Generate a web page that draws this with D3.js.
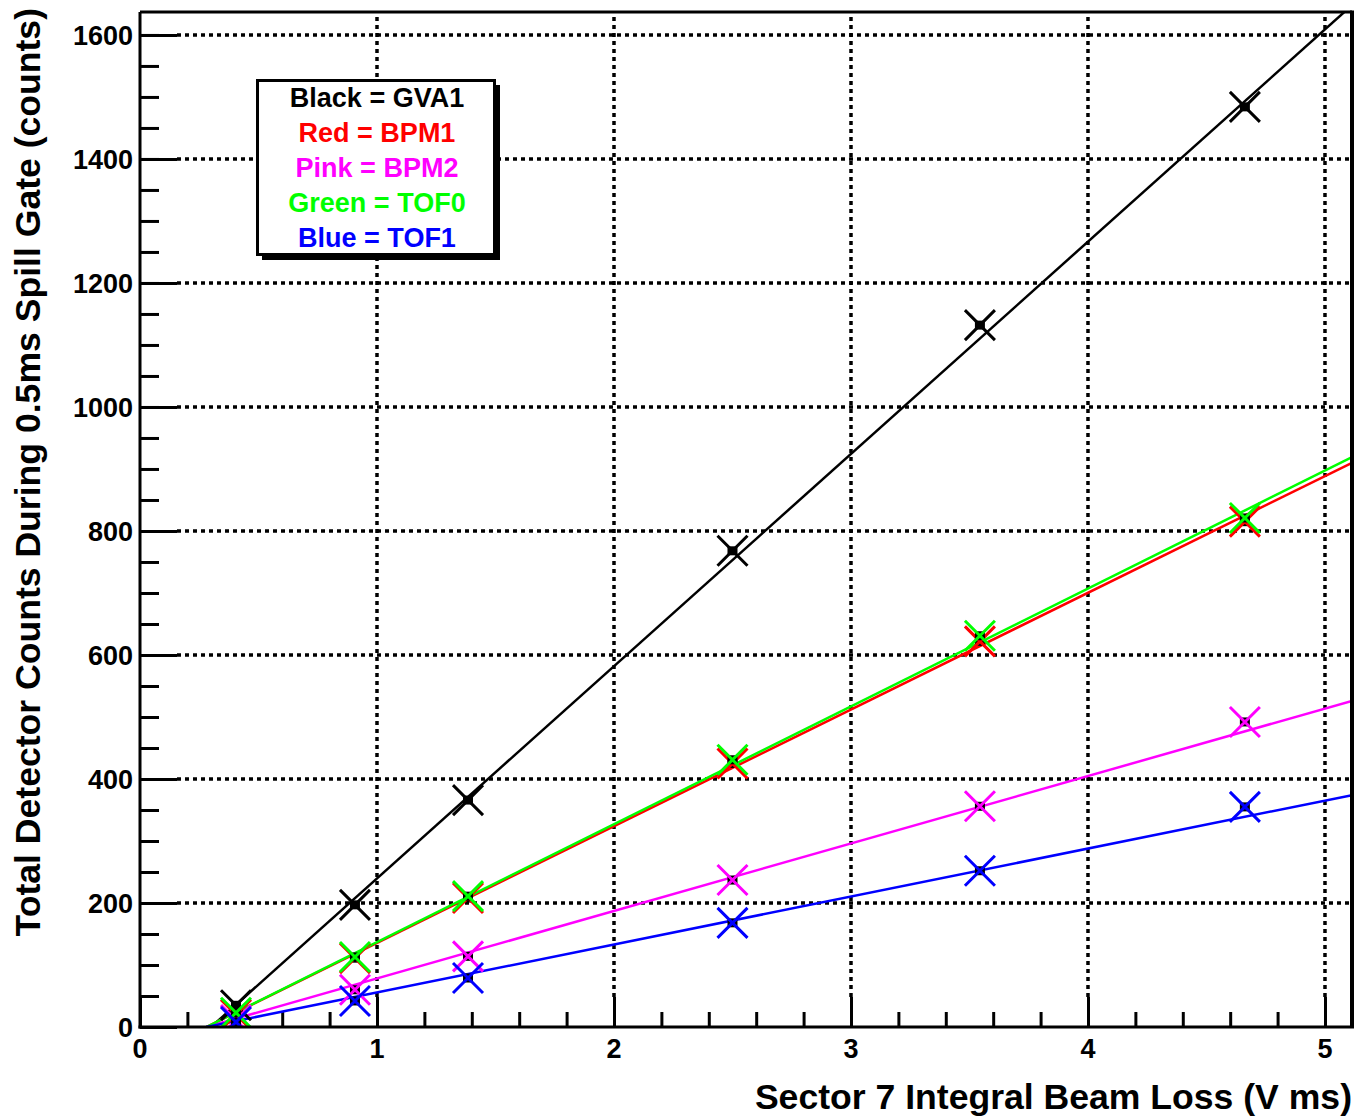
<!DOCTYPE html>
<html>
<head>
<meta charset="utf-8">
<title>Detector counts vs beam loss</title>
<script src="https://cdn.jsdelivr.net/npm/d3@7/dist/d3.min.js"></script>
<style>
body { margin: 0; background: #fff; }
text { font-family: "Liberation Sans", Arial, sans-serif; font-weight: bold; }
.grid line { stroke: #000; stroke-width: 3.5; stroke-dasharray: 4 4; }
</style>
</head>
<body>
<svg width="1358" height="1120"></svg>
<script>
// beam loss values (V ms) shared by all detectors
var beamLoss = [0.405, 0.907, 1.384, 2.5, 3.544, 4.662];
var gva1 = [35, 197, 366, 768, 1132, 1484];
var bpm1 = [20, 111, 208, 425, 622, 815];
var bpm2 = [11, 60, 114, 237, 356, 492];
var tof0 = [23, 113, 211, 431, 631, 821];
var tof1 = [8, 42, 79, 168, 252, 355];
// fitted straight lines, start and end
var fitStartX = [0.3, 0.28, 0.28, 0.28, 0.28];
var fitEndX = [5.114, 5.114, 5.114, 5.114, 5.114];
var fitEndY = [1648, 910, 526, 919, 374];
var names = ["GVA1", "BPM1", "BPM2", "TOF0", "TOF1"];
var colorNames = ["Black", "Red", "Pink", "Green", "Blue"];
var colors = ["#000000", "#ff0000", "#ff00ff", "#00ff00", "#0000ff"];
var yTicks = [0, 200, 400, 600, 800, 1000, 1200, 1400, 1600];
var xTicks = [0, 1, 2, 3, 4, 5];

var series = [gva1, bpm1, bpm2, tof0, tof1];

var svg = d3.select("svg");
var pL = 140, pR = 1352, pT = 12, pB = 1027;
var x = d3.scaleLinear().domain([0, 5.114]).range([pL, pR]);
var y = d3.scaleLinear().domain([0, 1637]).range([pB, pT]);

svg.append("clipPath").attr("id", "plot").append("rect")
  .attr("x", pL).attr("y", pT).attr("width", pR - pL).attr("height", pB - pT);

// grid
var grid = svg.append("g").attr("class", "grid");
grid.selectAll(".gy").data(yTicks.slice(1)).enter().append("line")
  .attr("x1", pL + 37).attr("x2", pR).attr("y1", function(d){return y(d);}).attr("y2", function(d){return y(d);});
grid.selectAll(".gx").data(xTicks.slice(1)).enter().append("line")
  .attr("x1", function(d){return x(d);}).attr("x2", function(d){return x(d);}).attr("y1", pB - 30).attr("y2", pT);

// axes with ticks pointing inwards
var yMinor = d3.range(0, 1637, 50);
var xMinor = d3.range(0, 5.11, 0.2);
function styleTicks(g) { g.selectAll(".tick line").attr("stroke-width", 3); g.select(".domain").remove(); }
svg.append("g").attr("transform", "translate(" + pL + ",0)")
  .call(d3.axisRight(y).tickValues(yMinor).tickSize(19).tickFormat("")).call(styleTicks);
svg.append("g").attr("transform", "translate(" + pL + ",0)")
  .call(d3.axisRight(y).tickValues(yTicks).tickSize(37).tickFormat("")).call(styleTicks);
svg.append("g").selectAll("text").data(yTicks).enter().append("text")
  .attr("x", pL - 7).attr("y", function(d){return y(d) + 10;})
  .attr("text-anchor", "end").style("font-size", "27px").text(function(d){return d;});

svg.append("g").attr("transform", "translate(0," + pB + ")")
  .call(d3.axisTop(x).tickValues(xMinor).tickSize(15).tickFormat("")).call(styleTicks);
svg.append("g").attr("transform", "translate(0," + pB + ")")
  .call(d3.axisTop(x).tickValues(xTicks).tickSize(30).tickFormat("")).call(styleTicks);
svg.append("g").selectAll("text").data(xTicks).enter().append("text")
  .attr("x", function(d){return x(d);}).attr("y", pB + 31)
  .attr("text-anchor", "middle").style("font-size", "27px").text(function(d){return d;});

// fit lines and points
var plot = svg.append("g").attr("clip-path", "url(#plot)");
for (var i = 0; i < series.length; i++) {
  plot.append("line")
    .attr("x1", x(fitStartX[i])).attr("y1", y(0))
    .attr("x2", x(fitEndX[i])).attr("y2", y(fitEndY[i]))
    .attr("stroke", colors[i]).attr("stroke-width", 2.5);
}
for (var i = 0; i < series.length; i++) {
  var pts = series[i].map(function(v, j){ return [beamLoss[j], v]; });
  plot.selectAll(".sq" + i).data(pts).enter().append("rect")
    .attr("x", function(d){return x(d[0]) - 5;}).attr("y", function(d){return y(d[1]) - 4.5;})
    .attr("width", 10).attr("height", 9).attr("fill", "#000");
  plot.selectAll(".mk" + i).data(pts).enter().append("path")
    .attr("d", function(d){
      var cx = x(d[0]), cy = y(d[1]), r = 15;
      return "M" + (cx - r) + "," + (cy - r) + "L" + (cx + r) + "," + (cy + r) +
             "M" + (cx - r) + "," + (cy + r) + "L" + (cx + r) + "," + (cy - r);
    })
    .attr("stroke", colors[i]).attr("stroke-width", 3).attr("fill", "none");
}

// frame
svg.append("line").attr("x1", pL).attr("x2", pL).attr("y1", pT).attr("y2", pB + 1.5).attr("stroke", "#000").attr("stroke-width", 3);
svg.append("line").attr("x1", pL - 1.5).attr("x2", pR + 2).attr("y1", pB).attr("y2", pB).attr("stroke", "#000").attr("stroke-width", 3);
svg.append("line").attr("x1", pL).attr("x2", pR).attr("y1", pT).attr("y2", pT).attr("stroke", "#000").attr("stroke-width", 3);
svg.append("line").attr("x1", pR).attr("x2", pR).attr("y1", pT - 1.5).attr("y2", pB).attr("stroke", "#000").attr("stroke-width", 4);

// legend
var lg = svg.append("g");
lg.append("rect").attr("x", 262).attr("y", 85).attr("width", 238).attr("height", 175).attr("fill", "#000");
lg.append("rect").attr("x", 257.5).attr("y", 80.5).attr("width", 237).attr("height", 174)
  .attr("fill", "#fff").attr("stroke", "#000").attr("stroke-width", 3);
lg.selectAll("text").data(names).enter().append("text")
  .attr("x", 377).attr("y", function(d, i){return 107 + i * 35;})
  .attr("text-anchor", "middle").style("font-size", "27px")
  .attr("fill", function(d, i){return colors[i];})
  .text(function(d, i){return colorNames[i] + " = " + d;});

// axis titles
svg.append("text").attr("x", 1352).attr("y", 1109).attr("text-anchor", "end")
  .style("font-size", "35.6px").text("Sector 7 Integral Beam Loss (V ms)");
svg.append("text").attr("transform", "translate(40,8) rotate(-90)").attr("text-anchor", "end")
  .style("font-size", "35.6px").text("Total Detector Counts During 0.5ms Spill Gate (counts)");
</script>
</body>
</html>
